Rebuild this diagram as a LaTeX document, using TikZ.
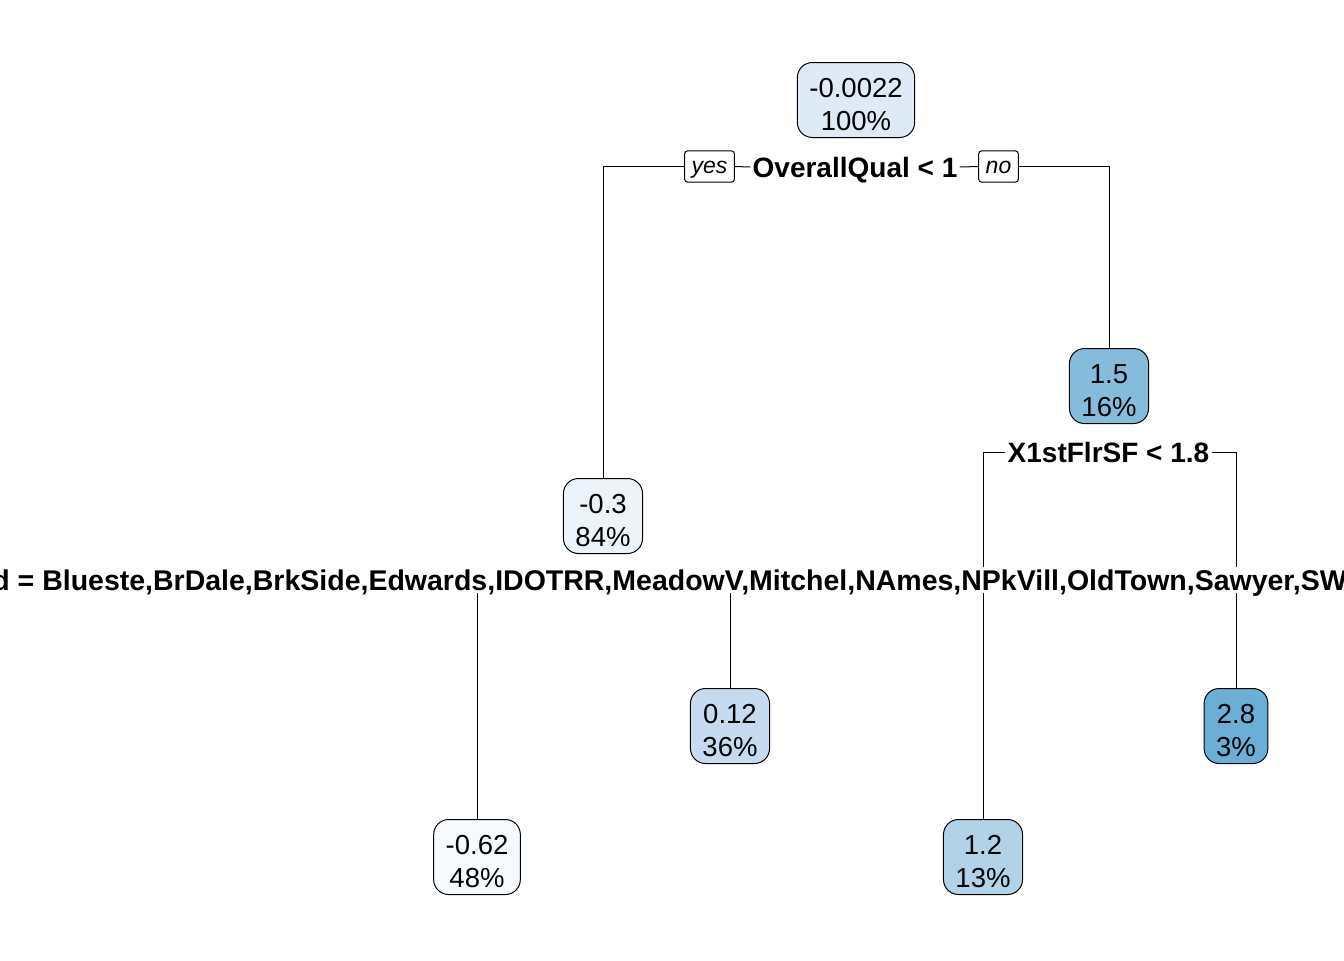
\documentclass[tikz,border=0pt]{standalone}
\usepackage{fontspec}
\setmainfont{Liberation Sans}
\usetikzlibrary{positioning, backgrounds}
\definecolor{blueRoot}{RGB}{222,235,247}
\definecolor{blueM03}{RGB}{235,243,251}
\definecolor{blueM062}{RGB}{246,250,255}
\definecolor{blueP012}{RGB}{198,219,239}
\definecolor{blueP12}{RGB}{178,210,231}
\definecolor{blueP15}{RGB}{133,188,219}
\definecolor{blueP28}{RGB}{107,174,214}
\newcommand{\toplift}{\rule{0pt}{14pt}}
\tikzstyle{leaf} = [rectangle, rounded corners=7.5pt, draw=black, line width=0.5pt, align=center, font=\fontsize{13.75}{16.5}\selectfont, minimum height=37.5pt, inner xsep=6pt, inner ysep=1.5pt]
\tikzstyle{split} = [fill=white, inner xsep=1pt, inner ysep=1.5pt, text height=10pt, text depth=0pt, font=\fontsize{14}{16}\selectfont\bfseries]
\tikzstyle{answer} = [rectangle, rounded corners=1.5pt, draw=black, line width=0.5pt, fill=white, text height=8pt, text depth=1pt, font=\fontsize{11.5}{13}\selectfont\itshape, minimum height=15.5pt, inner xsep=3.5pt]
\tikzstyle{edge} = [line width=0.5pt]

\begin{document}
\begin{tikzpicture}[x=0.5pt, y=-0.5pt]
	\useasboundingbox (0,0) rectangle (1344,960);
	\clip (0,0) rectangle (1344,960);
	% nodes
	\node (Root) [leaf, fill=blueRoot] at (856,100) {\toplift-0.0022\\100\%};
	\node (SplitQual) [split] at (855,167) {OverallQual < 1};
	\node (Yes) [answer] at (709.5,166.5) {yes};
	\node (No) [answer] at (998.5,166.5) {no};
	\node (NodeM03) [leaf, fill=blueM03] at (603,516) {\toplift-0.3\\84\%};
	\node (NodeP15) [leaf, fill=blueP15] at (1109,386) {\toplift1.5\\16\%};
	\node (SplitFlr) [split] at (1108.5,452) {X1stFlrSF < 1.8};
	\node (SplitHood) [split, anchor=west, font=\fontsize{14.25}{16}\selectfont\bfseries] at (-10,580) {d = Blueste,BrDale,BrkSide,Edwards,IDOTRR,MeadowV,Mitchel,NAmes,NPkVill,OldTown,Sawyer,SW};
	\node (LeafP012) [leaf, fill=blueP012] at (730,726) {\toplift0.12\\36\%};
	\node (LeafP28) [leaf, fill=blueP28] at (1236,726) {\toplift2.8\\3\%};
	\node (LeafM062) [leaf, fill=blueM062] at (477,857) {\toplift-0.62\\48\%};
	\node (LeafP12) [leaf, fill=blueP12] at (983,857) {\toplift1.2\\13\%};
	% connectors, behind the labels
	\begin{scope}[on background layer]
	\draw [edge] (SplitQual.west) -- (Yes.east);
	\draw [edge] (Yes.west) -| (NodeM03.north);
	\draw [edge] (SplitQual.east) -- (No.west);
	\draw [edge] (No.east) -| (NodeP15.north);
	\draw [edge] (SplitFlr.west) -| (LeafP12.north);
	\draw [edge] (SplitFlr.east) -| (LeafP28.north);
	\draw [edge] (LeafM062.north) -- (LeafM062.north |- SplitHood.center);
	\draw [edge] (LeafP012.north) -- (LeafP012.north |- SplitHood.center);
	\end{scope}
\end{tikzpicture}
\end{document}
